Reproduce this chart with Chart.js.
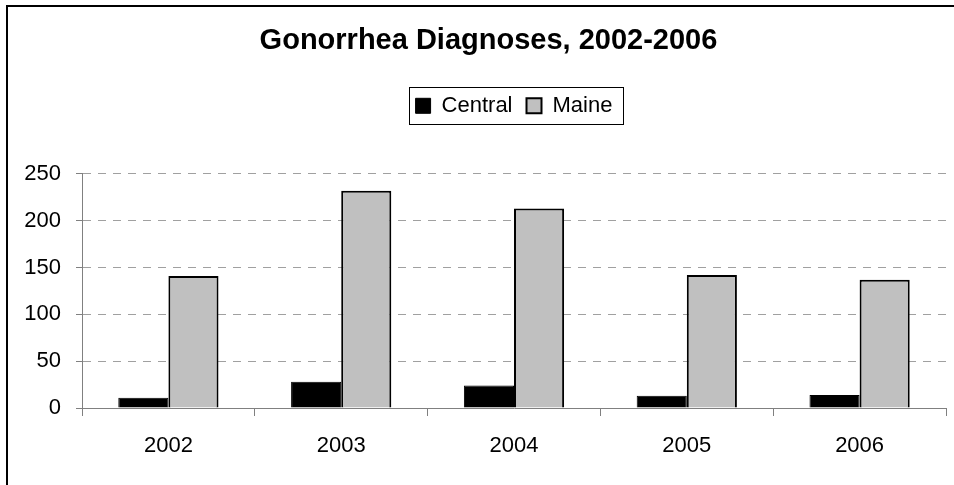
<!DOCTYPE html>
<html>
<head>
<meta charset="utf-8">
<script src="https://cdn.jsdelivr.net/npm/chart.js@4.4.1/dist/chart.umd.min.js"></script>
<style>
html, body { margin: 0; padding: 0; background: #ffffff; }
#wrap { position: relative; width: 954px; height: 485px; }
canvas { display: block; }
</style>
</head>
<body>
<div id="wrap"><canvas id="c" width="954" height="485"></canvas></div>
<script>
// ---- Data ----
const chartTitle = 'Gonorrhea Diagnoses, 2002-2006';
const categories = ['2002', '2003', '2004', '2005', '2006'];
const seriesNames = ['Central', 'Maine'];
const centralValues = [11, 28, 24, 13, 14];
const maineValues = [141, 232, 213, 142, 137];
const yTickValues = [0, 50, 100, 150, 200, 250];

const FONT = "'Liberation Sans', Arial, Helvetica, sans-serif";

// Outer frame of the chart (extends beyond the right/bottom edges, as in the picture)
const framePlugin = {
  id: 'outerFrame',
  beforeDraw(chart) {
    const ctx = chart.ctx;
    ctx.save();
    ctx.fillStyle = '#ffffff';
    ctx.fillRect(0, 0, chart.width, chart.height);
    ctx.strokeStyle = '#000000';
    ctx.lineWidth = 2;
    ctx.strokeRect(7, 6, 2000, 2000);
    ctx.restore();
  }
};

// Extra room below the legend and horizontal placement of title / legend
const placementPlugin = {
  id: 'placement',
  beforeLayout(chart) {
    const lg = chart.legend;
    if (lg && !lg._extraPatched) {
      const origFit = lg.fit;
      lg.fit = function () {
        origFit.call(this);
        this.height += 47;
      };
      lg._extraPatched = true;
    }
  },
  afterLayout(chart) {
    const ca = chart.chartArea;
    const lg = chart.legend;
    if (lg) {
      const d = (ca.left + ca.right) / 2 - (lg.left + lg.right) / 2;
      lg.left += d; lg.right += d;
    }
    const tt = chart.titleBlock;
    if (tt) {
      const d2 = 488.5 - (tt.left + tt.right) / 2;
      tt.left += d2; tt.right += d2;
    }
  },
  afterDraw(chart) {
    const lg = chart.legend;
    if (!lg || !lg.legendHitBoxes || !lg.legendHitBoxes.length) return;
    const hb = lg.legendHitBoxes;
    const first = hb[0], last = hb[hb.length - 1];
    const cy = first.top + first.height / 2;
    const x0 = first.left - 7;
    const x1 = last.left + last.width + 10;
    const ctx = chart.ctx;
    ctx.save();
    ctx.strokeStyle = '#000000';
    ctx.lineWidth = 1;
    ctx.strokeRect(Math.round(x0) + 0.5, Math.round(cy - 19) + 0.5, Math.round(x1 - x0), 37);
    ctx.restore();
  }
};

new Chart(document.getElementById('c'), {
  type: 'bar',
  data: {
    labels: categories,
    datasets: [
      {
        label: seriesNames[0],
        data: centralValues,
        backgroundColor: '#000000',
        borderColor: '#000000',
        borderWidth: 1,
        categoryPercentage: 0.58,
        barPercentage: 1.0
      },
      {
        label: seriesNames[1],
        data: maineValues,
        backgroundColor: '#c0c0c0',
        borderColor: '#000000',
        borderWidth: 2,
        categoryPercentage: 0.58,
        barPercentage: 1.0
      }
    ]
  },
  plugins: [framePlugin, placementPlugin],
  options: {
    responsive: false,
    animation: false,
    devicePixelRatio: 1,
    layout: { padding: { top: 0, left: 0, right: 8, bottom: 0 } },
    plugins: {
      title: {
        display: true,
        text: chartTitle,
        color: '#000000',
        font: { family: FONT, size: 29, weight: 'bold' },
        padding: { top: 24, bottom: 22 }
      },
      legend: {
        display: true,
        position: 'top',
        labels: {
          color: '#000000',
          font: { family: FONT, size: 22 },
          boxWidth: 15,
          boxHeight: 15,
          padding: 14
        }
      },
      tooltip: { enabled: false }
    },
    scales: {
      x: {
        grid: {
          display: true,
          drawOnChartArea: false,
          drawTicks: true,
          tickLength: 8,
          tickColor: '#808080',
          offset: true
        },
        border: { display: true, color: '#808080', width: 1 },
        ticks: {
          color: '#000000',
          font: { family: FONT, size: 22 },
          padding: 17,
          maxRotation: 0
        },
        afterFit(scale) { scale.height = 77; }
      },
      y: {
        min: 0,
        max: 250,
        afterBuildTicks(scale) {
          scale.ticks = yTickValues.map(v => ({ value: v }));
        },
        grid: {
          display: true,
          color: '#a0a0a0',
          lineWidth: 1,
          drawTicks: true,
          tickLength: 6,
          tickColor: '#808080',
          tickBorderDash: []
        },
        border: { display: true, color: '#808080', width: 1, dash: [8, 7] },
        ticks: {
          color: '#000000',
          font: { family: FONT, size: 22 },
          padding: 15
        },
        afterFit(scale) { scale.width = 82; }
      }
    }
  }
});
</script>
</body>
</html>
